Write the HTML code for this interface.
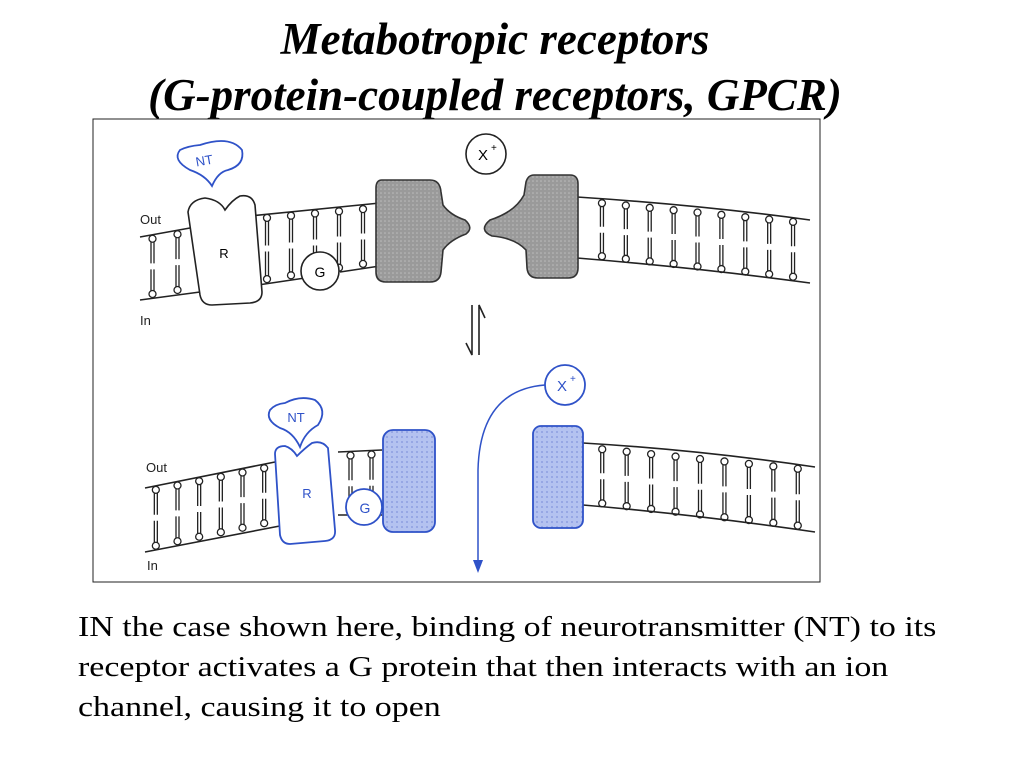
<!DOCTYPE html>
<html><head><meta charset="utf-8"><style>
body{margin:0;background:#fff;width:1024px;height:768px;overflow:hidden;font-family:"Liberation Serif",serif}
.t{position:absolute;left:0;width:990px;text-align:center;font-style:italic;font-weight:bold;font-size:45px;line-height:50px}
.p{position:absolute;left:78px;top:607px;font-size:29px;line-height:40px;width:762px;transform:scaleX(1.17);transform-origin:0 0}
svg{position:absolute;left:0;top:0}
</style></head><body>
<div class="t" style="top:14px">Metabotropic receptors</div>
<div class="t" style="top:70px">(G-protein-coupled receptors, GPCR)</div>
<svg width="1024" height="768" id="s" font-family="Liberation Sans, sans-serif">
<defs>
<pattern id="gd" width="4" height="4" patternUnits="userSpaceOnUse"><rect width="4" height="4" fill="#9a9a9a"/><circle cx="1" cy="1" r="0.8" fill="#bdbdbd"/></pattern>
<pattern id="bd" width="5" height="5" patternUnits="userSpaceOnUse"><rect width="5" height="5" fill="#b4c2f0"/><circle cx="2" cy="2" r="1" fill="#8e9fe0"/></pattern>
</defs>
<rect x="93" y="119" width="727" height="463" fill="#fff" stroke="#222" stroke-width="1"/>
<g id="lip" stroke="#222" fill="none" stroke-width="1.3"></g>
<g stroke="#222" stroke-width="1.6" fill="none">
<path d="M140 237 L190 228 M250 216 L380 203"/>
<path d="M140 300 L200 292 M258 285 L305 278 M340 272 L380 266"/>
<path d="M577 197 Q700 205 810 220"/>
<path d="M577 258 Q700 268 810 283"/>
<path d="M145 488 L275 462 M338 452 L382 450"/>
<path d="M145 552 L285 525 M338 515 L382 515"/>
<path d="M583 443 Q700 450 815 467"/>
<path d="M583 505 Q700 515 815 532"/>
</g>
<path d="M188 212 Q190 200 205 198 Q220 200 225 210 Q232 200 240 196 Q252 194 255 205 L262 292 Q262 302 250 303 L212 305 Q202 305 200 295 Z" fill="#fff" stroke="#222" stroke-width="1.6"/>
<text x="224" y="258" font-size="13" text-anchor="middle">R</text>
<path d="M200 145 Q230 135 242 150 Q245 165 228 170 Q218 172 212 186 Q205 175 190 170 Q172 160 180 150 Q188 146 200 145 Z" fill="#fff" stroke="#2f52c8" stroke-width="1.8"/>
<text x="205" y="165" font-size="13" fill="#2f52c8" text-anchor="middle" transform="rotate(-10 205 165)">NT</text>
<circle cx="320" cy="271" r="19" fill="#fff" stroke="#222" stroke-width="1.6"/>
<text x="320" y="277" font-size="14" text-anchor="middle">G</text>
<path d="M382 180 L430 180 Q440 180 441 192 L443 205 Q450 215 465 220 Q474 228 466 234 Q450 240 443 250 L441 272 Q440 282 430 282 L386 282 Q376 282 376 272 L376 188 Q376 180 382 180 Z" fill="url(#gd)" stroke="#333" stroke-width="1.6"/>
<path d="M534 175 L570 175 Q578 175 578 184 L578 268 Q578 278 568 278 L538 278 Q528 278 527 268 L526 250 Q515 238 492 236 Q478 230 490 220 Q515 212 524 195 L526 182 Q528 175 534 175 Z" fill="url(#gd)" stroke="#333" stroke-width="1.6"/>
<circle cx="486" cy="154" r="20" fill="#fff" stroke="#222" stroke-width="1.6"/>
<text x="483" y="160" font-size="15" text-anchor="middle">X</text><text x="491" y="151" font-size="10">+</text>
<path d="M472 305 L472 355 L466 343 M479 355 L479 305 L485 318" stroke="#222" stroke-width="1.6" fill="none"/>
<path d="M275 454 Q275 446 285 446 Q292 448 297 456 Q305 448 312 443 Q322 440 328 448 L335 530 Q336 540 325 541 L290 544 Q282 544 280 535 Z" fill="#fff" stroke="#2f52c8" stroke-width="1.8"/>
<text x="307" y="498" font-size="13" fill="#2f52c8" text-anchor="middle">R</text>
<path d="M285 403 Q300 395 315 400 Q328 410 318 425 Q305 432 300 447 Q293 432 280 428 Q265 420 270 410 Q275 404 285 403 Z" fill="#fff" stroke="#2f52c8" stroke-width="1.8"/>
<text x="296" y="422" font-size="13" fill="#2f52c8" text-anchor="middle">NT</text>
<circle cx="364" cy="507" r="18" fill="#fff" stroke="#2f52c8" stroke-width="1.8"/>
<text x="365" y="513" font-size="14" fill="#2f52c8" text-anchor="middle">G</text>
<rect x="383" y="430" width="52" height="102" rx="10" fill="url(#bd)" stroke="#2f52c8" stroke-width="1.8"/>
<rect x="533" y="426" width="50" height="102" rx="8" fill="url(#bd)" stroke="#2f52c8" stroke-width="1.8"/>
<circle cx="565" cy="385" r="20" fill="#fff" stroke="#2f52c8" stroke-width="1.8"/>
<text x="562" y="391" font-size="15" fill="#2f52c8" text-anchor="middle">X</text><text x="570" y="382" font-size="10" fill="#2f52c8">+</text>
<path d="M545 385 Q480 390 478 470 L478 565" stroke="#2f52c8" stroke-width="1.5" fill="none"/>
<path d="M473 560 L478 573 L483 560 Z" fill="#2f52c8"/>
<g font-size="13" fill="#222"><text x="140" y="224">Out</text><text x="140" y="325">In</text><text x="146" y="472">Out</text><text x="147" y="570">In</text></g>
</svg>
<div class="p">IN the case shown here, binding of neurotransmitter (NT) to its receptor activates a G protein that then interacts with an ion channel, causing it to open</div>
<script>
var g=document.getElementById('lip'),h='';
function L(x1,y1,x2,y2,n,ya,yb){
 for(var i=0;i<n;i++){var t=(i+0.5)/n,x=x1+(x2-x1)*t,yt=y1+(y2-y1)*t,yb2=ya+(yb-ya)*t,m=(yt+yb2)/2;
 h+='<path d="M'+(x-1.5)+' '+(yt+3)+' L'+(x-1.5)+' '+(m-3)+' M'+(x+1.5)+' '+(yt+3)+' L'+(x+1.5)+' '+(m-3)+' M'+(x-1.5)+' '+(m+3)+' L'+(x-1.5)+' '+(yb2-3)+' M'+(x+1.5)+' '+(m+3)+' L'+(x+1.5)+' '+(yb2-3)+'"/>';
 h+='<circle cx="'+x+'" cy="'+(yt+4)+'" r="3.5" fill="#fff"/><circle cx="'+x+'" cy="'+(yb2-4)+'" r="3.5" fill="#fff"/>';}}
L(140,237,190,228,2,300,292);
L(255,215,375,204,5,285,266);
L(590,198,805,219,9,259,282);
L(145,488,275,462,6,552,525);
L(340,452,382,450,2,515,515);
L(590,444,810,466,9,506,531);
g.innerHTML=h;
</script>
</body></html>
